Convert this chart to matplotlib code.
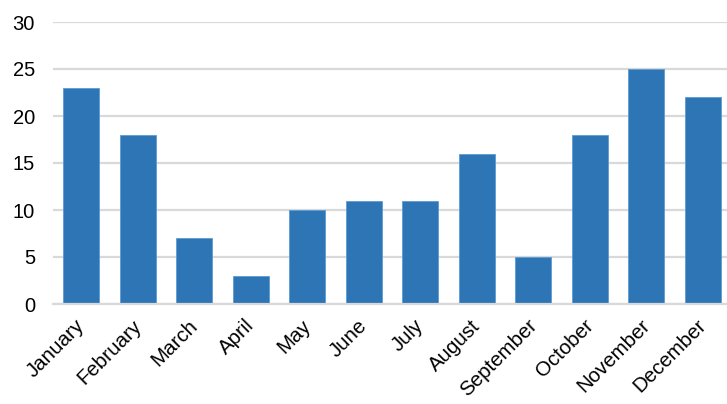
import matplotlib.pyplot as plt
import matplotlib.transforms as mtransforms
import numpy as np

plt.rcParams['font.family'] = ['Liberation Sans', 'DejaVu Sans']

# monthly values
months = ['January', 'February', 'March', 'April', 'May', 'June',
          'July', 'August', 'September', 'October', 'November', 'December']
values = [23, 18, 7, 3, 10, 11, 11, 16, 5, 18, 25, 22]
yticks = [0, 5, 10, 15, 20, 25, 30]

W, H = 727, 404
fig = plt.figure(figsize=(W / 100, H / 100), dpi=100)

# plot area in pixels: left 53, top 22, baseline 304
left, right, top, bottom = 53, 727, 22, 304
ax = fig.add_axes([left / W, 1 - bottom / H, (right - left) / W, (bottom - top) / H])

x = np.arange(len(months))
ax.bar(x, values, width=0.64, color='#2E75B6', edgecolor='#5B9BD5', linewidth=0.6, zorder=3)

ax.set_ylim(0, 30)
ax.set_yticks(yticks)
# category spacing ~56.5px, last slot runs a little past the figure edge
ax.set_xlim(-0.5, 11.5 - 4 / 56.5)
ax.set_xticks(x)
ax.set_xticklabels(months, rotation=45, ha='right', rotation_mode='anchor', fontsize=14.8)
ax.tick_params(axis='y', labelsize=14.5, length=0, pad=13)
ax.tick_params(axis='x', length=0, pad=8)

# nudge the rotated month names so they sit under the bar centres
shift = mtransforms.ScaledTranslation(-6 / 100, -1 / 100, fig.dpi_scale_trans)
for lbl in ax.get_xticklabels():
    lbl.set_transform(lbl.get_transform() + shift)

ax.grid(axis='y', color='#D9D9D9', linewidth=1.6, zorder=0)
for s in ['top', 'right', 'left']:
    ax.spines[s].set_visible(False)
ax.spines['bottom'].set_color('#D9D9D9')
ax.spines['bottom'].set_linewidth(1.6)
ax.spines['bottom'].set_zorder(4)

fig.savefig('out.png', dpi=100)
